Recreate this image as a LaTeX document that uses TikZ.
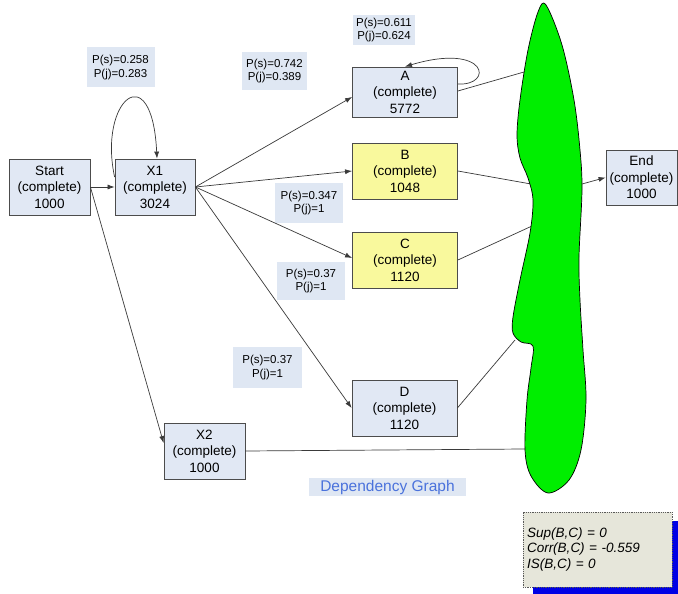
\documentclass[tikz,border=0pt]{standalone}
\usepackage{fontspec}
\setmainfont{Liberation Sans}
\usetikzlibrary{arrows.meta,calc}
\definecolor{boxblue}{HTML}{E1E8F4}
\definecolor{tagblue}{HTML}{DFE7F3}
\definecolor{boxyellow}{HTML}{F9F99D}
\definecolor{blobgreen}{HTML}{00EE00}
\definecolor{notefill}{HTML}{E6E6DA}
\definecolor{titleblue}{HTML}{4A72DC}
\definecolor{edgegray}{HTML}{3A3A3A}
\begin{document}
\begin{tikzpicture}[x=1pt,y=-1pt,
  state/.style={draw=gray!60!black, line width=0.8pt, fill=boxblue, inner sep=0pt,
    align=center, font=\fontsize{13.5}{16.5}\selectfont,
    minimum width=#1, minimum height=56pt},
  state/.default=81pt,
  hot/.style={fill=boxyellow},
  prob/.style={fill=tagblue, inner sep=0pt, align=center,
    font=\fontsize{11.5}{13.3}\selectfont, minimum width=68pt, minimum height=40pt},
  edge/.style={draw=edgegray, line width=0.7pt},
  flow/.style={edge, -{Latex[length=7pt,width=5pt]}}
]
\useasboundingbox (0,0) rectangle (678,594);
\fill[white] (0,0) rectangle (678,594);

% activity nodes
\node[state] (start) at (49.5,187) {Start\\(complete)\\1000};
\node[state=80pt] (x1) at (155,187) {X1\\(complete)\\3024};
\node[state=105pt, minimum height=50pt] (a) at (405,92) {A\\(complete)\\5772};
\node[state=105pt, hot] (b) at (405,171) {B\\(complete)\\1048};
\node[state=105pt, hot] (c) at (405,260) {C\\(complete)\\1120};
\node[state=105pt] (d) at (404.5,408) {D\\(complete)\\1120};
\node[state] (x2) at (204.5,451) {X2\\(complete)\\1000};
\node[state=71pt, minimum height=55pt] (end) at (641.5,177.5) {End\\(complete)\\1000};

% probability tags
\node[prob] (t1) at (120.5,67.5) {P(s)=0.258\\P(j)=0.283};
\node[prob, minimum width=65pt, minimum height=38pt] (t2) at (274.5,71) {P(s)=0.742\\P(j)=0.389};
\node[prob, minimum width=62pt, minimum height=30pt] (t3) at (384,30) {P(s)=0.611\\P(j)=0.624};
\node[prob] (t4) at (309,203) {P(s)=0.347\\P(j)=1};
\node[prob, minimum height=38pt] (t5) at (311,281) {P(s)=0.37\\P(j)=1};
\node[prob, minimum width=69pt, minimum height=41pt] (t6) at (267.5,367.5) {P(s)=0.37\\P(j)=1};

% connectors between nodes
\draw[flow] (start.east) -- (x1.west);
\draw[flow] (start.east) -- ($(x2.west)+(0,-8)$);
\draw[flow] ($(x1.west)+(0,-10)$) .. controls (98,100) and (152,55) .. ($(x1.north)+(2,0)$);
\draw[flow] (x1.east) -- ($(a.west)+(0,5)$);
\draw[flow] (x1.east) -- (b.west);
\draw[flow] (x1.east) -- ($(c.west)+(0,-2)$);
\draw[flow] (x1.east) -- (d.west);
\draw[flow] ($(a.east)+(0,-8)$) .. controls (494,86) and (488,42) .. (a.north);

% join points on the green region
\coordinate (ja) at (524,72);
\coordinate (jb) at (531,184);
\coordinate (jc) at (532,226);
\coordinate (jd) at (515,340);
\coordinate (jx) at (525,449);
\coordinate (jo) at (582,184);

\draw[edge] ($(a.east)+(0,-1)$) -- (ja);
\draw[edge] (b.east) -- (jb);
\draw[edge] (c.east) -- (jc);
\draw[edge] (d.east) -- (jd);
\draw[edge] (x2.east) -- (jx);

% green region
\draw[fill=blobgreen, draw=black, line width=0.7pt] plot[smooth cycle, tension=0.55] coordinates {
  (546,5) (562,45) (574,100) (580,150) (582,190) (579,257) (580,300)
  (583,350) (586,400) (581,450) (569,480) (548,493) (531,476) (525,450)
  (527,400) (531,368) (533,346) (521,342) (513,333) (513,317) (520,280)
  (530,233) (533,200) (528,178) (520,158) (517,135) (520,100) (528,50) (538,12)};

\draw[flow] (jo) -- (end.west);

% caption
\node[fill=tagblue, text=titleblue, inner sep=0pt, minimum width=157pt, minimum height=18pt,
  font=\fontsize{15.5}{18}\selectfont] (cap) at (387.5,487) {Dependency Graph};

% measures box with its shadow
\fill[blue!90!black] (533,521) rectangle (680,594);
\node[draw=gray!70!black, densely dotted, line width=0.8pt, fill=notefill, inner sep=4pt,
  minimum width=149pt, minimum height=75pt, align=left, text width=141pt,
  font=\itshape\fontsize{13.5}{15.5}\selectfont] (note) at (597.5,549.5)
  {Sup(B,C) = 0\\Corr(B,C) = -0.559\\IS(B,C) = 0};
\end{tikzpicture}
\end{document}
